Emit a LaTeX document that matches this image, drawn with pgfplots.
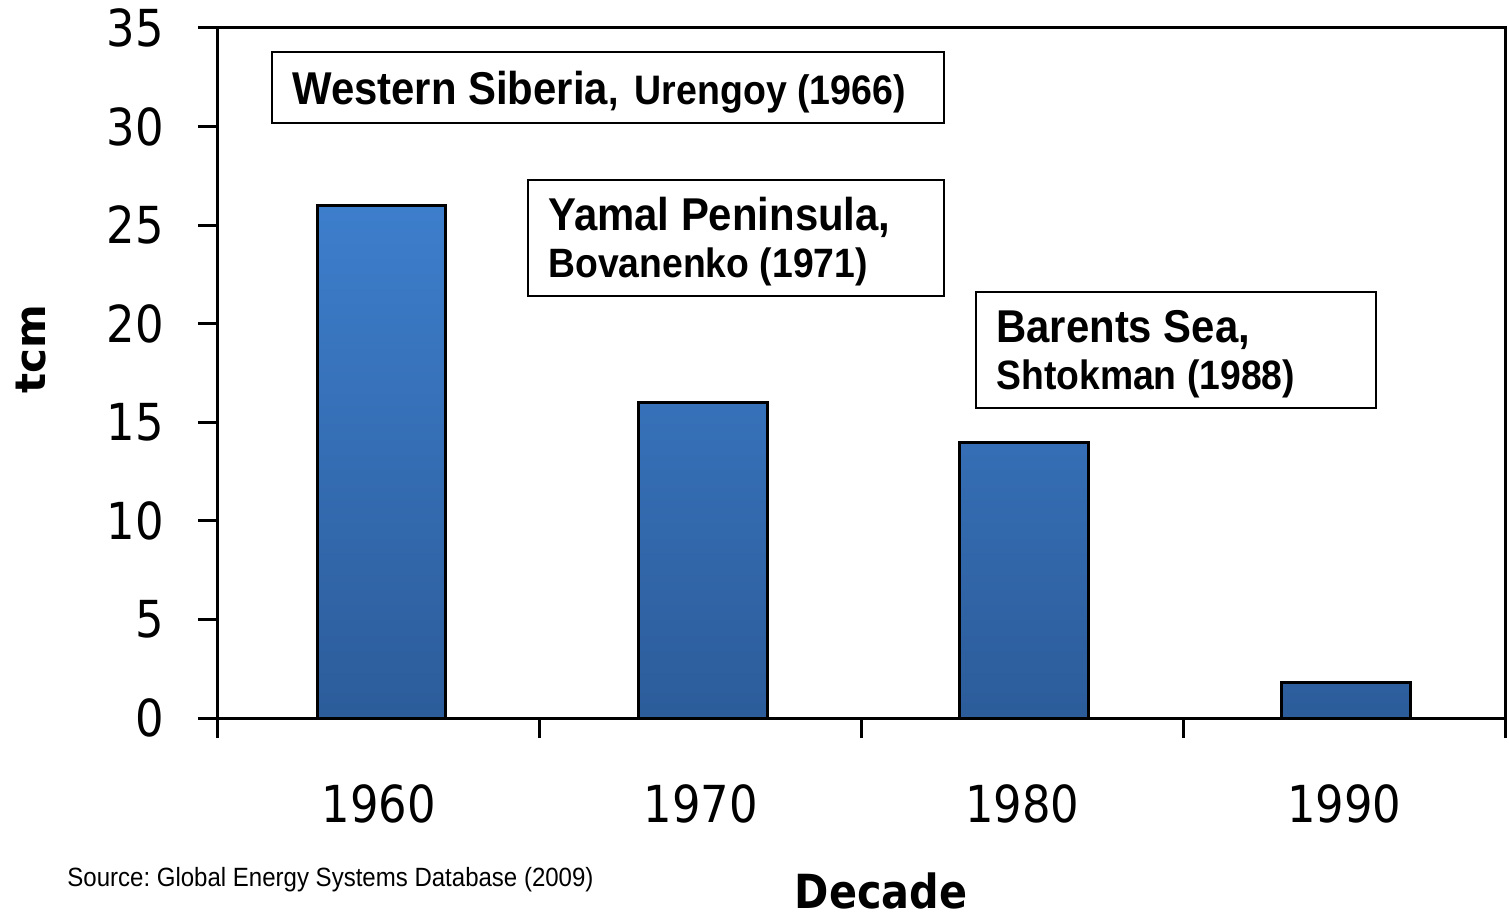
\documentclass[border=0pt]{standalone}
\usepackage{pgfplots}
\pgfplotsset{compat=1.18}
\usepackage{fontspec}
\setmainfont{Liberation Sans}
\newfontfamily\verd{DejaVu Sans}[FakeStretch=0.88]
\newfontfamily\verdb{DejaVu Sans}
\newfontfamily\arialc{Liberation Sans}[FakeStretch=0.91]
\definecolor{barTop}{RGB}{61,126,204}
\definecolor{barBot}{RGB}{44,92,154}
\newcommand{\fs}[1]{\fontsize{#1}{#1}\selectfont}
\newcommand{\px}[2]{({(#1-218)*0.5pt},{(718-#2)*0.5pt})}
\frenchspacing
\begin{document}
\begin{tikzpicture}
\useasboundingbox (-109pt,-101.5pt) rectangle (645.5pt,359pt);
\begin{axis}[
 scale only axis, width=643.5pt, height=345pt,
 xmin=-0.5, xmax=3.5, ymin=0, ymax=35,
 xtick={-0.5,0.5,1.5,2.5,3.5}, x tick label as interval,
 xticklabels={1960,1970,1980,1990},
 ytick={0,5,...,35},
 tick align=outside, xtick pos=bottom, ytick pos=left,
 major tick length=10pt,
 axis line style={line width=1.5pt},
 every tick/.style={black, line width=1.5pt},
 tick label style={font=\verd\fs{25.5pt}},
 /pgf/number format/assume math mode=true,
 yticklabel style={anchor=east, inner sep=0pt, xshift=-17pt},
 xticklabel style={anchor=north, inner sep=0pt, yshift=-23pt},
]
\addplot[ybar, bar width=0.4, draw=black, line width=1.5pt, top color=barTop, bottom color=barBot] coordinates {(0.008,26) (1.008,16) (2.006,14) (3.006,1.8)};
\end{axis}
\draw[line width=1pt] \px{272}{52} rectangle \px{944}{123};
\node[anchor=base west, inner sep=0pt, font=\arialc\bfseries] at \px{292}{105} {{\fs{23pt}Western Siberia}{\fs{20.6pt},\hspace{3pt} Urengoy (1966)}};
\draw[line width=1pt] \px{528}{180} rectangle \px{944}{296};
\node[anchor=base west, inner sep=0pt, font=\arialc\bfseries\fs{23pt}] at \px{548}{231} {Yamal Peninsula,};
\node[anchor=base west, inner sep=0pt, font=\arialc\bfseries\fs{20.5pt}] at \px{548}{278} {Bovanenko (1971)};
\draw[line width=1pt] \px{976}{292} rectangle \px{1376}{408};
\node[anchor=base west, inner sep=0pt, font=\arialc\bfseries\fs{23pt}] at \px{996}{343} {Barents Sea,};
\node[anchor=base west, inner sep=0pt, font=\arialc\bfseries\fs{20.5pt}] at \px{996}{390} {Shtokman (1988)};
\node[anchor=base west, inner sep=0pt, font=\arialc\fs{13.2pt}] at \px{67}{886} {Source: Global Energy Systems Database (2009)};
\node[rotate=90, inner sep=0pt, font=\verdb\bfseries\fs{21pt}] at \px{31}{349} {tcm};
\node[anchor=base, inner sep=0pt, font=\verd\bfseries\fs{23.5pt}] at \px{881}{908} {Decade};
\end{tikzpicture}
\end{document}
